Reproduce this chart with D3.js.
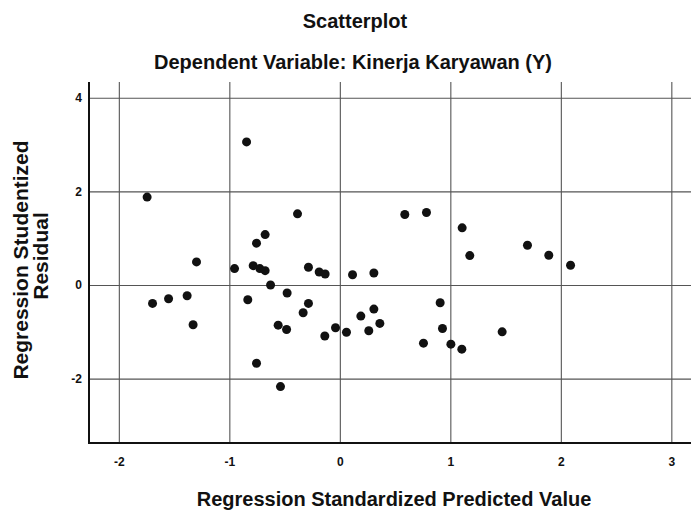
<!DOCTYPE html>
<html>
<head>
<meta charset="utf-8">
<script src="https://cdn.jsdelivr.net/npm/d3@7"></script>
<style>
  body { margin: 0; background: #fff; }
  text { font-family: "Liberation Sans", Arial, sans-serif; font-weight: bold; fill: #111; }
</style>
</head>
<body>
<div id="display"></div>
<script>
// predicted (x) and studentized residual (y)
const predicted = [
  -1.744, -0.844, -0.383, -0.676, -0.754, -1.297, -0.953, -0.784, -0.724, -0.676,
  -0.284, -0.187, -0.133, 0.115, 0.308, -0.627, -0.477, 0.588, 0.784, 1.107,
  1.176, 1.698, 1.891, 2.088, -1.695, -1.550, -1.382, -1.328, -0.833, -0.284,
  -0.332, -0.558, -0.482, -0.754, -0.537, -0.136, -0.039, 0.060, 0.190, 0.262,
  0.308, 0.362, 0.908, 0.929, 0.757, 1.005, 1.104, 1.469
];
const residual = [
  1.878, 3.055, 1.520, 1.077, 0.893, 0.493, 0.350, 0.413, 0.350, 0.306,
  0.378, 0.278, 0.235, 0.220, 0.257, 0.000, -0.170, 1.506, 1.548, 1.220,
  0.628, 0.850, 0.635, 0.421, -0.393, -0.293, -0.229, -0.850, -0.314, -0.393,
  -0.593, -0.857, -0.950, -1.670, -2.170, -1.090, -0.914, -1.010, -0.664, -0.978,
  -0.514, -0.820, -0.379, -0.928, -1.242, -1.263, -1.370, -1.000
];
const xTicks = [-2, -1, 0, 1, 2, 3];
const yTicks = [-2, 0, 2, 4];

const title = "Scatterplot";
const subtitle = "Dependent Variable: Kinerja Karyawan (Y)";
const xTitle = "Regression Standardized Predicted Value";
const yTitle = ["Regression Studentized", "Residual"];

const W = 691, H = 513;
const plotL = 89, plotR = 691, plotT = 82, plotB = 443;

const svg = d3.select('#display')
  .append('svg')
  .attr('width', W)
  .attr('height', H);

const x = d3.scaleLinear().domain([-2.27, 3.178]).range([plotL, plotR]);
const y = d3.scaleLinear().domain([-3.374, 4.335]).range([plotB, plotT]);

// plain hyphen for negatives, like the original
const fmt = d => String(d);

// gridlines + tick labels via the axes
const gx = svg.append('g')
  .attr('transform', `translate(0,${plotB})`)
  .call(d3.axisBottom(x).tickValues(xTicks).tickSize(-(plotB - plotT)).tickPadding(14).tickFormat(fmt));
gx.select('.domain').remove();
gx.selectAll('line').attr('stroke', '#555').attr('stroke-width', 1.1);
gx.selectAll('text').attr('font-size', 12).attr('fill', '#111');

const gy = svg.append('g')
  .attr('transform', `translate(${plotL},0)`)
  .call(d3.axisLeft(y).tickValues(yTicks).tickSize(-(plotR - plotL)).tickPadding(7).tickFormat(fmt));
gy.select('.domain').remove();
gy.selectAll('line').attr('stroke', '#555').attr('stroke-width', 1.1);
gy.selectAll('text').attr('font-size', 12).attr('fill', '#111');

// axis frame lines
svg.append('line')
  .attr('x1', plotL).attr('y1', plotT).attr('x2', plotL).attr('y2', plotB + 1)
  .attr('stroke', '#111').attr('stroke-width', 2);
svg.append('line')
  .attr('x1', plotL - 1).attr('y1', plotB).attr('x2', plotR).attr('y2', plotB)
  .attr('stroke', '#111').attr('stroke-width', 2.2);

// points
svg.append('g')
  .selectAll('circle')
  .data(predicted.map((p, i) => [p, residual[i]]))
  .join('circle')
  .attr('cx', d => x(d[0]))
  .attr('cy', d => y(d[1]))
  .attr('r', 4.5)
  .attr('fill', '#111');

// titles
svg.append('text')
  .attr('x', 355).attr('y', 28)
  .attr('text-anchor', 'middle')
  .attr('font-size', 20)
  .text(title);

svg.append('text')
  .attr('x', 353).attr('y', 69)
  .attr('text-anchor', 'middle')
  .attr('font-size', 20)
  .text(subtitle);

svg.append('text')
  .attr('x', 394).attr('y', 506)
  .attr('text-anchor', 'middle')
  .attr('font-size', 20)
  .text(xTitle);

svg.append('text')
  .attr('transform', 'translate(28,260) rotate(-90)')
  .attr('text-anchor', 'middle')
  .attr('font-size', 21)
  .text(yTitle[0]);

svg.append('text')
  .attr('transform', 'translate(48,256) rotate(-90)')
  .attr('text-anchor', 'middle')
  .attr('font-size', 21)
  .text(yTitle[1]);
</script>
</body>
</html>
